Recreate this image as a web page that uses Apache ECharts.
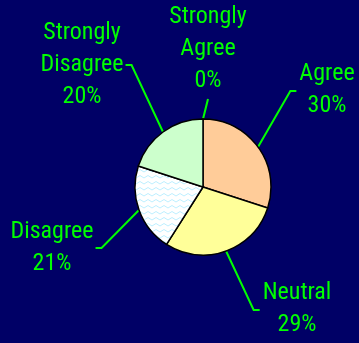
<!DOCTYPE html>
<html><head><meta charset="utf-8">
<script src="https://cdn.jsdelivr.net/npm/echarts@6/dist/echarts.min.js"></script>
<style>html,body{margin:0;padding:0;background:#000066;overflow:hidden}#c{width:359px;height:343px}</style>
</head><body><div id="c"></div>
<script>
const categories = ['Strongly Agree', 'Agree', 'Neutral', 'Disagree', 'Strongly Disagree'];
const percentValues = [0, 30, 29, 21, 20];
const sliceColors = ['#FFCC99', '#FFCC99', '#FFFF99', null, '#CCFFCC'];

// zigzag pattern for "Disagree"
const pc = document.createElement('canvas');
pc.width = 8; pc.height = 6;
const g = pc.getContext('2d');
g.fillStyle = '#FFFFFF'; g.fillRect(0, 0, 8, 6);
g.strokeStyle = '#BDEFFF'; g.lineWidth = 1;
g.beginPath(); g.moveTo(0, 4); g.lineTo(4, 1.5); g.lineTo(8, 4); g.stroke();

// label anchor positions (center of text block) and attach side
const labelPos = [[208, 49, 'bottom'], [327, 90, 'left'], [297, 309, 'left'], [52, 248, 'right'], [82, 65, 'right']];

const chart = echarts.init(document.getElementById('c'), null, {renderer: 'canvas'});
chart.setOption({
  backgroundColor: '#000066',
  animation: false,
  series: [{
    type: 'pie',
    center: [203, 187],
    radius: 68,
    startAngle: 90,
    clockwise: true,
    avoidLabelOverlap: false,
    stillShowZeroSum: true,
    minShowLabelAngle: 0,
    itemStyle: {borderColor: '#000', borderWidth: 1.5},
    label: {
      show: true,
      color: '#00FF00',
      fontFamily: 'Roboto Condensed',
      fontSize: 24,
      lineHeight: 32,
      align: 'center',
      formatter: p => p.name.replace(' ', '\n') + '\n' + p.value + '%'
    },
    labelLine: {show: true, lineStyle: {color: '#00FF00', width: 2}},
    labelLayout: function (p) {
      const lp = labelPos[p.dataIndex];
      const w = p.labelRect.width, h = p.labelRect.height;
      const a = p.labelLinePoints ? p.labelLinePoints[0] : [lp[0], lp[1]];
      let pts;
      if (lp[2] === 'bottom') {
        pts = [a, [lp[0], lp[1] + h / 2 + 2], [lp[0], lp[1] + h / 2 + 2]];
      } else if (lp[2] === 'left') {
        const ex = lp[0] - w / 2 - 3;
        pts = [a, [ex - 6, lp[1] + 1], [ex, lp[1] + 1]];
      } else {
        const ex = lp[0] + w / 2 + 2;
        pts = [a, [ex + 6, lp[1]], [ex, lp[1]]];
      }
      return {x: lp[0], y: lp[1], align: 'center', verticalAlign: 'middle', labelLinePoints: pts};
    },
    data: categories.map((c, i) => ({
      name: c,
      value: percentValues[i],
      itemStyle: {color: sliceColors[i] || {image: pc, repeat: 'repeat'}}
    }))
  }]
});
</script></body></html>
